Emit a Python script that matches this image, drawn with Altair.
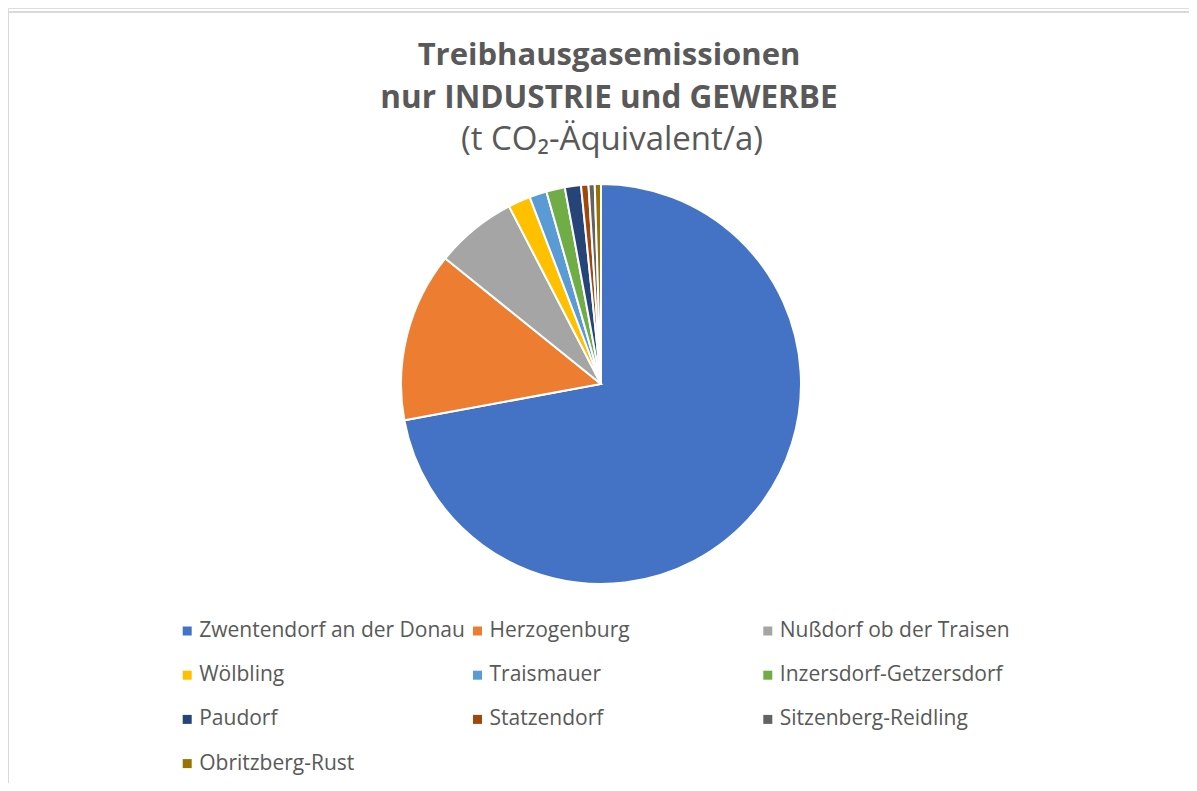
import altair as alt
import pandas as pd

# Data (share of emissions, in % of the total)
gemeinden = [
    "Zwentendorf an der Donau", "Herzogenburg", "Nußdorf ob der Traisen",
    "Wölbling", "Traismauer", "Inzersdorf-Getzersdorf",
    "Paudorf", "Statzendorf", "Sitzenberg-Reidling", "Obritzberg-Rust",
]
werte = [72.1, 13.7, 6.6, 1.8, 1.4, 1.5, 1.3, 0.6, 0.5, 0.5]
farben = ["#4472C4", "#ED7D31", "#A5A5A5", "#FFC000", "#5B9BD5",
          "#70AD47", "#264478", "#9E480E", "#636363", "#997300"]

title_lines = ["Treibhausgasemissionen", "nur INDUSTRIE und GEWERBE"]
subtitle = "(t CO₂-Äquivalent/a)"

FONT = "Open Sans"
TXT = "#595959"
N_COLS = 3

df = pd.DataFrame({
    "Gemeinde": gemeinden,
    "Wert": werte,
    "idx": list(range(len(gemeinden))),
})
df["col"] = df["idx"] % N_COLS
df["row"] = df["idx"] // N_COLS

color = alt.Color(
    "Gemeinde:N",
    sort=gemeinden,
    scale=alt.Scale(domain=gemeinden, range=farben),
    legend=None,
)

pie = alt.Chart(df).mark_arc(outerRadius=200, stroke="white", strokeWidth=2).encode(
    theta=alt.Theta("Wert:Q", stack=True),
    order=alt.Order("idx:Q"),
    color=color,
    x=alt.value(593),
    y=alt.value(376),
)

# custom legend laid out in a 3-column grid (Excel style, row-major)
lx = alt.X("col:Q", scale=alt.Scale(domain=[0, 2], range=[179.2, 759.8]), axis=None)
ly = alt.Y("row:Q", scale=alt.Scale(domain=[0, 3], range=[623.0, 755.6]), axis=None)

leg_sym = alt.Chart(df).mark_point(shape="square", filled=True, size=81, opacity=1).encode(
    x=lx, y=ly, color=color
)
leg_txt = alt.Chart(df).mark_text(
    font=FONT, fontSize=21, color=TXT, align="left", baseline="middle", dx=12
).encode(x=lx, y=ly, text="Gemeinde:N")

frame_df = pd.DataFrame({"k": [0]})
top_line = alt.Chart(frame_df).mark_rule(color="#d9d9d9", strokeWidth=2).encode(
    x=alt.value(0), x2=alt.value(1181), y=alt.value(4)
)
left_line = alt.Chart(frame_df).mark_rule(color="#d9d9d9", strokeWidth=2).encode(
    x=alt.value(0), y=alt.value(4), y2=alt.value(800)
)

def title_text(text, x, y, size, weight):
    return alt.Chart(pd.DataFrame({"t": [text]})).mark_text(
        font=FONT, fontSize=size, fontWeight=weight, color=TXT,
        align="center", baseline="alphabetic"
    ).encode(text="t:N", x=alt.value(x), y=alt.value(y))

t1 = title_text(title_lines[0], 601, 57, 31, "bold")
t2 = title_text(title_lines[1], 601, 100, 31.5, "bold")
t3 = title_text(subtitle, 604, 142, 33, "normal")

chart = alt.layer(top_line, left_line, pie, leg_sym, leg_txt, t1, t2, t3).properties(
    width=1181, height=775,
    autosize=alt.AutoSizeParams(type="none"),
    padding=0,
).configure_view(strokeWidth=0).configure(font=FONT)

chart.save("out.html", embed_options={"renderer": "svg", "actions": False})
